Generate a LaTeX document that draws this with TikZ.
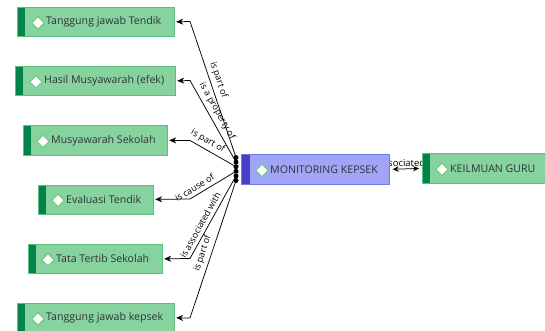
\documentclass[tikz,border=0pt]{standalone}
\usepackage{fontspec}
\setmainfont{Open Sans}
\usetikzlibrary{arrows.meta,calc}
\definecolor{gfill}{HTML}{86D3A0}
\definecolor{gline}{HTML}{5DBE7E}
\definecolor{gdark}{HTML}{00844A}
\definecolor{bfill}{HTML}{A0A5F8}
\definecolor{bline}{HTML}{7277E6}
\definecolor{bdark}{HTML}{4A3FC8}
\definecolor{iconline}{HTML}{6CCB80}
\definecolor{txt}{HTML}{333333}
\pgfdeclarelayer{bg}
\pgfsetlayers{bg,main}
\tikzset{
  gbox/.style={draw=gline, fill=gfill, line width=0.7pt, anchor=north west,
    minimum height=29pt, inner sep=0pt,
    path picture={\fill[gdark] (path picture bounding box.north west) rectangle ([xshift=8pt]path picture bounding box.south west);}},
  bbox/.style={draw=bline, fill=bfill, line width=0.7pt, anchor=north west,
    minimum height=30pt, inner sep=0pt,
    path picture={\fill[bdark] (path picture bounding box.north west) rectangle ([xshift=9pt]path picture bounding box.south west);}},
  ntext/.style={anchor=west, inner sep=0pt, text=txt, font=\fontsize{10.6}{12}\selectfont},
  icon/.style={draw=iconline, fill=white, line width=1.1pt, line join=round},
  dotn/.style={circle, fill=black, minimum size=5pt, inner sep=0pt},
  conn/.style={draw=black, line width=0.75pt, {Stealth[length=7pt,width=6pt]}-, shorten <=1.5pt},
  conn2/.style={draw=black, line width=0.75pt, {Stealth[length=6pt,width=5.5pt]}-{Stealth[length=6pt,width=5.5pt]}, shorten <=3pt, shorten >=3pt},
  lbl/.style={sloped, above, inner sep=3.5pt, text=black, font=\fontsize{9}{10}\selectfont},
}
\begin{document}
\begin{tikzpicture}[x=1pt,y=-1pt]
\useasboundingbox (0,0) rectangle (545,331);

% boxes
\node[gbox, minimum width=157pt] (t1) at (17,7) {};
\node[gbox, minimum width=160pt] (t2) at (15,66) {};
\node[gbox, minimum width=144pt] (t3) at (23,125.5) {};
\node[gbox, minimum width=115pt] (t4) at (38,184.5) {};
\node[gbox, minimum width=134pt] (t5) at (28,244) {};
\node[gbox, minimum width=157pt] (t6) at (17,303) {};
\node[bbox, minimum width=148pt] (m) at (241,154) {};
\node[gbox, minimum width=126pt, minimum height=30pt] (k) at (422,153) {};

% icons and texts
\foreach \n/\t/\ix/\tx in {t1/Tanggung jawab Tendik/21/29, t2/Hasil Musyawarah (efek)/21/29, t3/Musyawarah Sekolah/20/28, t4/Evaluasi Tendik/20/28, t5/Tata Tertib Sekolah/20/28, t6/Tanggung jawab kepsek/21/29, m/MONITORING KEPSEK/21/29, k/KEILMUAN GURU/20/28}{
  \coordinate (\n i) at ([xshift=\ix pt, yshift=-1pt]\n.west);
  \draw[icon] (\n i) +(-6.3,0) -- +(0,6.3) -- +(6.3,0) -- +(0,-6.3) -- cycle;
  \node[ntext] (\n l) at ([xshift=\tx pt]\n.west) {\t};
}

% dots
\foreach \i/\y in {1/157.5, 2/162.1, 3/166.7, 4/171.3, 5/175.9, 6/180.5}{
  \node[dotn] (d\i) at (236,\y) {};
}

% elbows
\coordinate (e1) at (190,21.5);
\coordinate (e2) at (190,80.5);
\coordinate (e3) at (190,140.5);
\coordinate (e4) at (190,199);
\coordinate (e5) at (190,258.5);
\coordinate (e6) at (190,318);

\begin{pgfonlayer}{bg}
\draw[conn] (t1.east) -- (e1) -- node[lbl, pos=0.45] {is part of} (d1.center);
\draw[conn] (t2.east) -- (e2) -- node[lbl, pos=0.43] {is a property of} (d2.center);
\draw[conn] (t3.east) -- (e3) -- node[lbl, pos=0.3] {is part of} (d3.center);
\draw[conn] (t4.east) -- (e4) -- node[lbl, pos=0.18] {is cause of} (d4.center);
\draw[conn] (t5.east) -- (e5) -- node[lbl, pos=0.36] {is associated with} (d5.center);
\draw[conn] (t6.east) -- (e6) -- node[lbl, pos=0.45] {is part of} (d6.center);
\draw[conn2] (m.east) -- node[above, inner sep=2pt, xshift=2pt, text=black, font=\fontsize{9.5}{10}\selectfont] {is associated with} (k.west);
\end{pgfonlayer}
\end{tikzpicture}
\end{document}
